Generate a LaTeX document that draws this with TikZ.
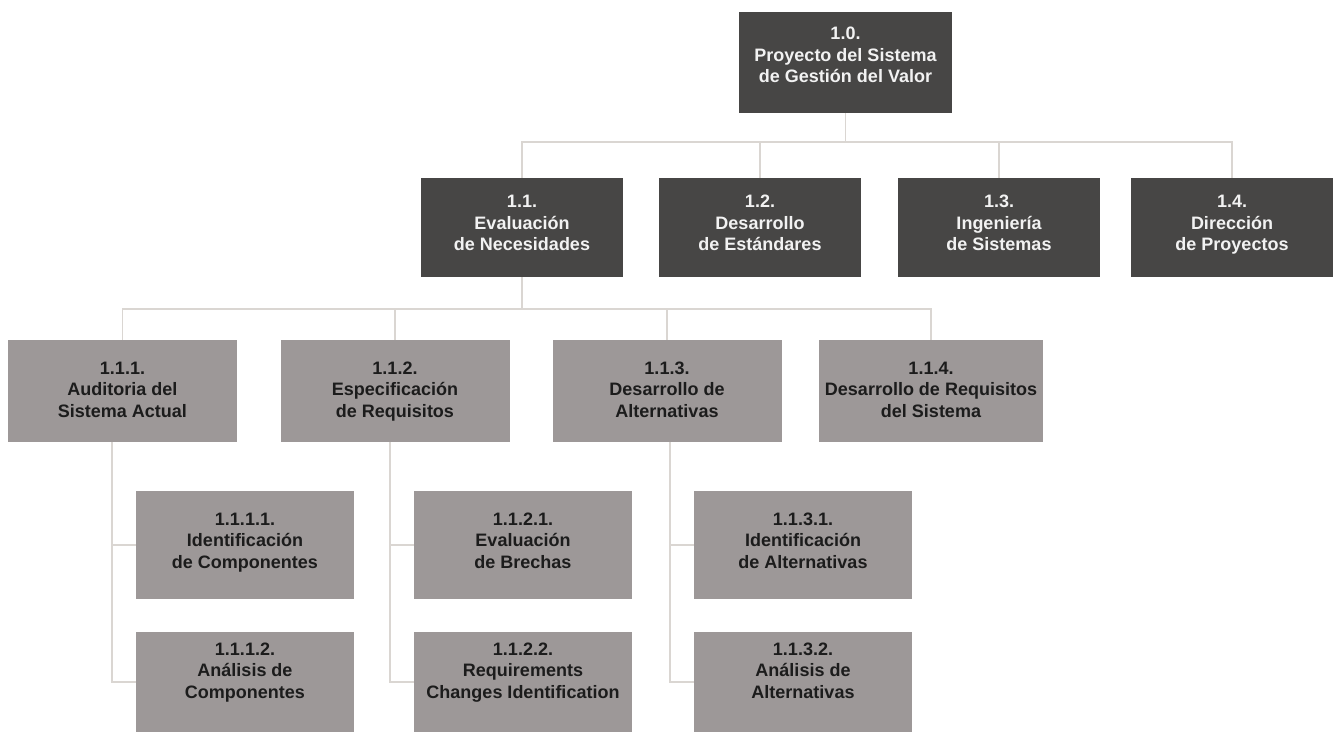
\documentclass[tikz,border=0pt]{standalone}
\usepackage{fontspec}
\setmainfont{Liberation Sans}
\definecolor{darkbox}{HTML}{474645}
\definecolor{lightbox}{HTML}{9D9898}
\definecolor{darktext}{HTML}{F2F2F2}
\definecolor{lighttext}{HTML}{1C1C1C}
\definecolor{linkgray}{HTML}{DAD6D2}
% stacked, centred lines, lifted by #1 without changing the node's size
\newcommand{\wbslines}[2]{\raisebox{#1}[0pt][0pt]{\begin{tabular}{@{}c@{}}#2\end{tabular}}}
\begin{document}
\begin{tikzpicture}[x=1pt,y=-1pt,
  wbs/.style={rectangle,inner sep=0pt,
    font=\fontsize{18}{21.5}\selectfont\bfseries},
  topbox/.style={wbs,fill=darkbox,text=darktext,minimum width=202,minimum height=99},
  midbox/.style={wbs,fill=lightbox,text=lighttext,minimum width=229,minimum height=102},
  lowbox/.style={wbs,fill=lightbox,text=lighttext,minimum width=218,minimum height=108},
  conn/.style={draw=linkgray,line width=1.5pt}]
\useasboundingbox[fill=white] (0,0) rectangle (1333,731);

% root
\node[topbox,minimum width=213,minimum height=101] (n10) at (845.5,62.5)
  {\wbslines{1.3pt}{1.0.\\Proyecto del Sistema\\de Gestión del Valor}};

% first level
\node[topbox] (n11) at (522,227.5) {\wbslines{-1.7pt}{1.1.\\Evaluación\\de Necesidades}};
\node[topbox] (n12) at (760,227.5) {\wbslines{-1.7pt}{1.2.\\Desarrollo\\de Estándares}};
\node[topbox] (n13) at (999,227.5) {\wbslines{-1.7pt}{1.3.\\Ingeniería\\de Sistemas}};
\node[topbox] (n14) at (1232,227.5) {\wbslines{-1.7pt}{1.4.\\Dirección\\de Proyectos}};

% second level
\node[midbox] (n111) at (122.5,391) {\wbslines{-4.7pt}{1.1.1.\\Auditoria del\\Sistema Actual}};
\node[midbox] (n112) at (395,391) {\wbslines{-4.7pt}{1.1.2.\\Especificación\\de Requisitos}};
\node[midbox] (n113) at (667,391) {\wbslines{-4.7pt}{1.1.3.\\Desarrollo de\\Alternativas}};
\node[midbox,minimum width=224] (n114) at (931,391) {\wbslines{-4.7pt}{1.1.4.\\Desarrollo de Requisitos\\del Sistema}};

% third level
\node[lowbox] (n1111) at (245,545) {\wbslines{-1.7pt}{1.1.1.1.\\Identificación\\de Componentes}};
\node[lowbox,minimum height=100] (n1112) at (245,682) {\wbslines{5.3pt}{1.1.1.2.\\Análisis de\\Componentes}};
\node[lowbox] (n1121) at (523,545) {\wbslines{-1.7pt}{1.1.2.1.\\Evaluación\\de Brechas}};
\node[lowbox,minimum height=100] (n1122) at (523,682) {\wbslines{5.3pt}{1.1.2.2.\\Requirements\\Changes Identification}};
\node[lowbox] (n1131) at (803,545) {\wbslines{-1.7pt}{1.1.3.1.\\Identificación\\de Alternativas}};
\node[lowbox,minimum height=100] (n1132) at (803,682) {\wbslines{5.3pt}{1.1.3.2.\\Análisis de\\Alternativas}};

% bus lines
\coordinate (bus1) at (0,142);
\coordinate (bus2) at (0,309);

\foreach \c in {n11,n12,n13,n14}
  \draw[conn] (n10.south) -- (n10.south |- bus1) -| (\c.north);
\foreach \c in {n111,n112,n113,n114}
  \draw[conn] (n11.south) -- (n11.south |- bus2) -| (\c.north);

% side trunks to the work packages
\draw[conn] ([xshift=-10.5pt]n111.south) |- (n1111.west);
\draw[conn] ([xshift=-10.5pt]n111.south) |- (n1112.west);
\draw[conn] ([xshift=-5pt]n112.south) |- (n1121.west);
\draw[conn] ([xshift=-5pt]n112.south) |- (n1122.west);
\draw[conn] ([xshift=3pt]n113.south) |- (n1131.west);
\draw[conn] ([xshift=3pt]n113.south) |- (n1132.west);
\end{tikzpicture}
\end{document}
